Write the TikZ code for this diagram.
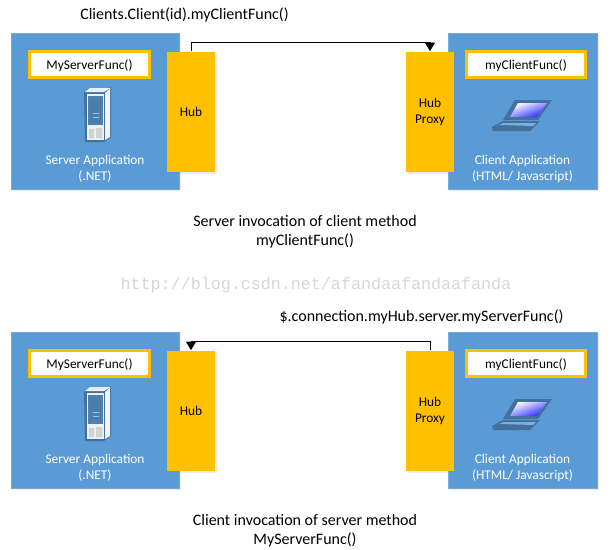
\documentclass[tikz,border=0pt]{standalone}
\usepackage{fontspec}
\setmainfont{Carlito}
\newfontfamily\markfont{Liberation Mono}
\usetikzlibrary{positioning, arrows.meta, shadows}
\definecolor{myblue}{HTML}{5B9BD5}
\definecolor{mygold}{HTML}{FFC000}
\definecolor{myicon}{HTML}{41719C}

\begin{document}
\begin{tikzpicture}
[x=0.02cm, y=-0.02cm,
 app/.style={rectangle, fill=myblue, draw=myblue!85!white, line width=0.3pt, minimum height=3.12cm,
   drop shadow={opacity=.15, shadow xshift=1pt, shadow yshift=-1pt}},
 hub/.style={rectangle, fill=mygold, inner sep=0pt, minimum width=.96cm, minimum height=2.42cm,
   font=\fontsize{7.6}{9.1}\selectfont, drop shadow={opacity=.15, shadow xshift=1pt, shadow yshift=-1pt}},
 func/.style={rectangle, fill=white, draw=mygold, line width=1.7pt, inner sep=0pt, minimum width=2.4cm,
   minimum height=.52cm, text height=7pt, font=\fontsize{7.6}{9}\selectfont},
 lbl/.style={text=white, font=\fontsize{7.6}{9.1}\selectfont},
 head/.style={font=\fontsize{9.1}{10.8}\selectfont, inner sep=0pt},
 link/.style={line width=0.55pt, arrows={-Triangle[length=4.8pt, width=5.6pt]}},
 server/.pic={
   \fill[myicon] (0,5) -- (19,5) -- (27,0) -- (27,50) -- (20,55) -- (1,55) -- cycle;
   \fill[white!85!myblue] (6,1) -- (27,1) -- (20,5) -- (1,5) -- cycle;
   \fill[white!90!myblue] (21,6) -- (26,2) -- (26,50) -- (21,53) -- cycle;
   \fill[white!94!black] (3,7) rectangle (20,53);
   \fill[myicon!90!white] (4,9) rectangle (19,38);
   \fill[myicon!70!myblue] (6,11) rectangle (17,36);
   \fill[white!70!myblue] (9,26) rectangle (15,26.6) (9,30) rectangle (15,30.6);
   \fill[gray!35] (5,42) rectangle (10,51) (12,41) rectangle (18,51);
 },
 laptop/.pic={
   \fill[myicon] (23,0) -- (60,0) -- (46,20) -- (11,20) -- cycle;
   \shade[left color=white, right color=blue!85!white, shading angle=20]
     (26,3) -- (55,3) -- (45,17) -- (18,17) -- cycle;
   \fill[myicon] (0,27) -- (11,21) -- (48,21) -- (38,31) -- (1,31) -- cycle;
   \fill[myblue!80!white] (7,25) -- (12,23) -- (44,23) -- (41,26) -- cycle;
 }]

\useasboundingbox (0,0) rectangle (613,549);

% upper diagram
\node[app, minimum width=3.36cm] (S1) at (95,111) {};
\node[app, minimum width=2.98cm] (C1) at (522.5,111) {};
\node[hub] (H1) at (191,112) {Hub};
\node[hub, align=center] (P1) at (430,112) {Hub\\Proxy};
\node[func] (SF1) at (89.5,64.5) {MyServerFunc()};
\node[func] (CF1) at (526,64.5) {myClientFunc()};
\pic at (84,87) {server};
\pic at (492,100) {laptop};
\node[lbl, align=center] (SL1) at (95,169) {Server Application\\(.NET)};
\node[lbl, align=center] (CL1) at (522.5,169) {Client Application\\(HTML/ Javascript)};
\node[head] (T1) at (184.5,15) {Clients.Client(id).myClientFunc()};
\node[head, align=center] (N1) at (305,231.5) {Server invocation of client method\\myClientFunc()};
\draw [link] (H1.north) -- ++(0,-9) -| (P1.north);

% watermark
\node[inner sep=0pt, text=black!16, font=\markfont\fontsize{9.5}{10}\selectfont] (W) at (316,285)
  {http://blog.csdn.net/afandaafandaafanda};

% lower diagram
\node[app, minimum width=3.36cm] (S2) at (95,410) {};
\node[app, minimum width=2.98cm] (C2) at (522.5,410) {};
\node[hub] (H2) at (191,411) {Hub};
\node[hub, align=center] (P2) at (430,411) {Hub\\Proxy};
\node[func] (SF2) at (89.5,363.5) {MyServerFunc()};
\node[func] (CF2) at (526,363.5) {myClientFunc()};
\pic at (84,386) {server};
\pic at (492,399) {laptop};
\node[lbl, align=center] (SL2) at (95,468) {Server Application\\(.NET)};
\node[lbl, align=center] (CL2) at (522.5,468) {Client Application\\(HTML/ Javascript)};
\node[head] (T2) at (421.5,317) {\$.connection.myHub.server.myServerFunc()};
\node[head, align=center] (N2) at (305,530.5) {Client invocation of server method\\MyServerFunc()};
\draw [link] (P2.north) -- ++(0,-9) -| (H2.north);

\end{tikzpicture}
\end{document}
